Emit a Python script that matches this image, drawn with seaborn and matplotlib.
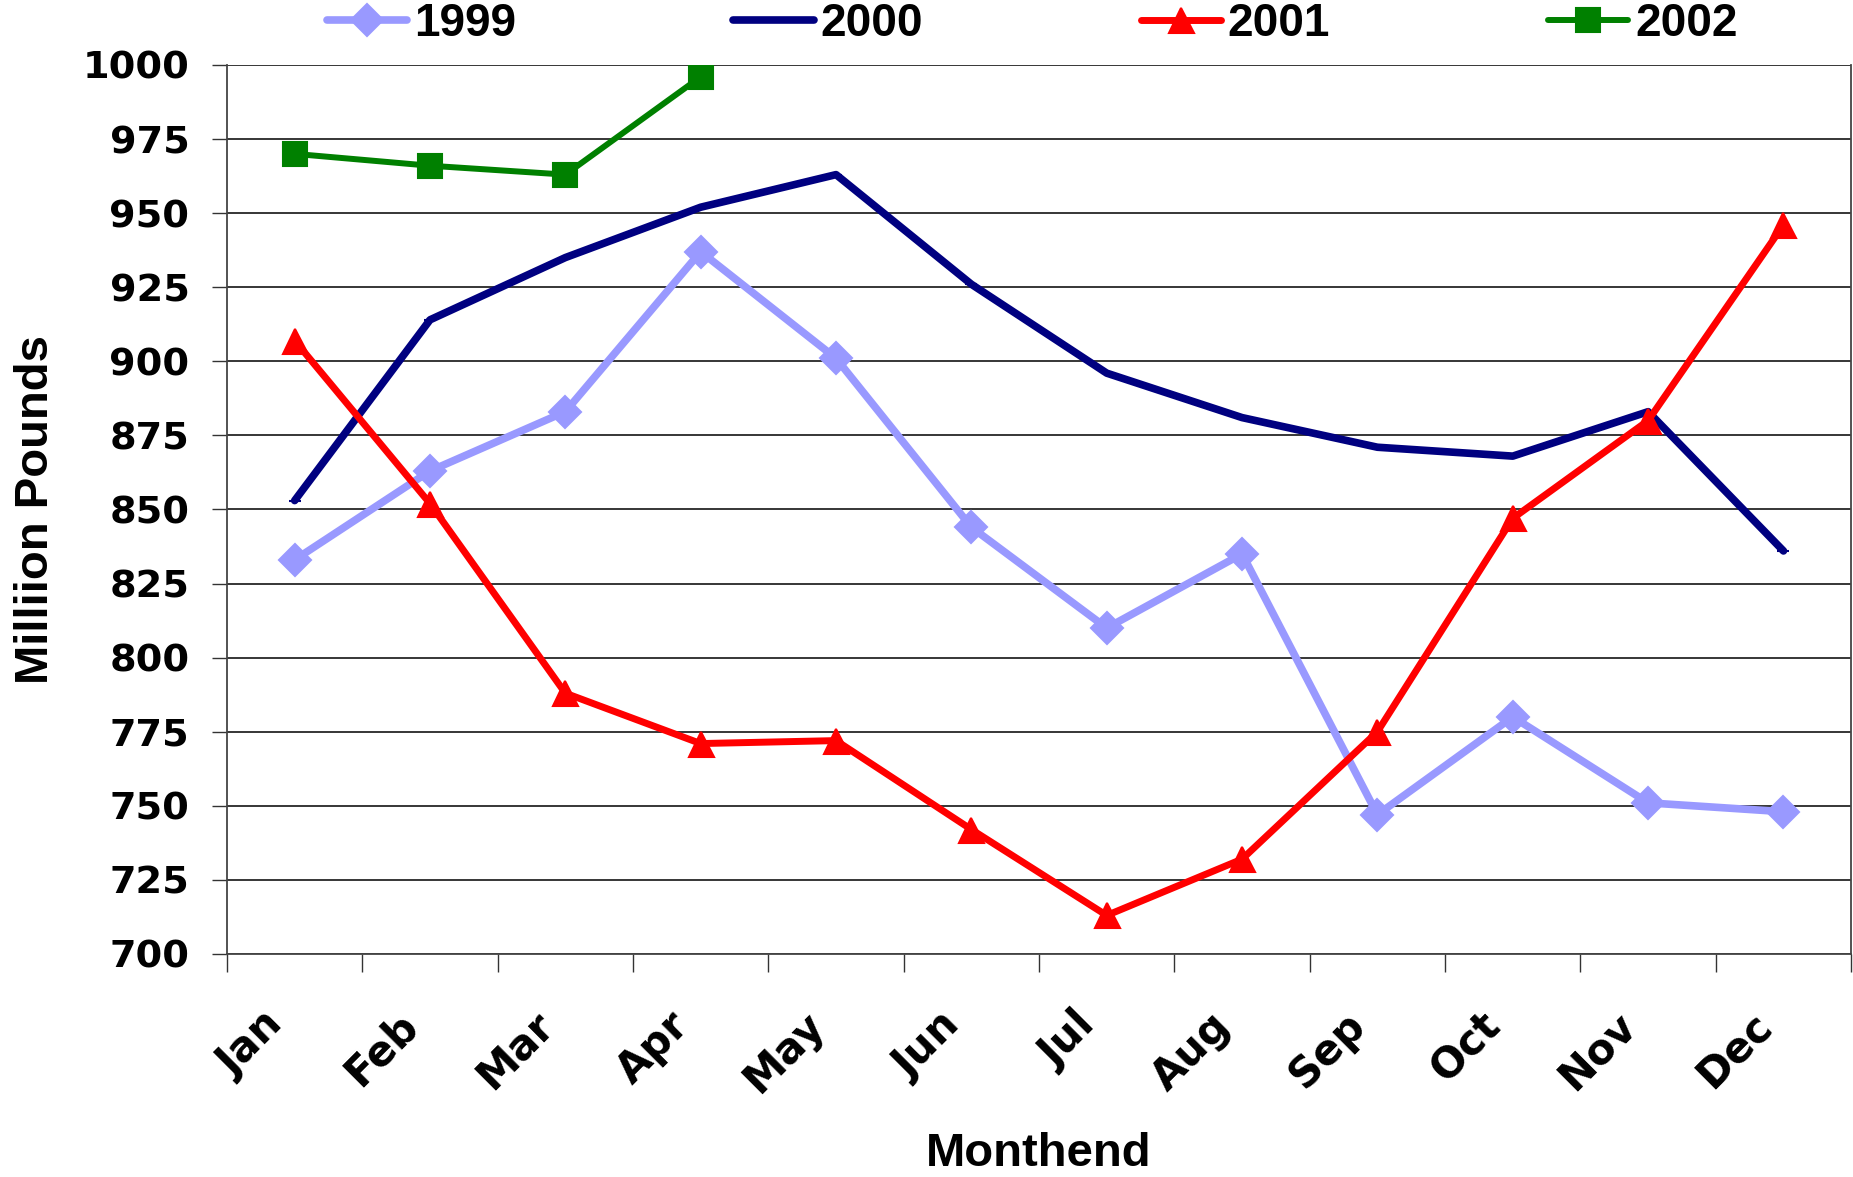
import pandas as pd
import seaborn as sns
import matplotlib.pyplot as plt
from matplotlib.ticker import FixedLocator, MultipleLocator
from matplotlib.transforms import ScaledTranslation

months = ["Jan", "Feb", "Mar", "Apr", "May", "Jun",
          "Jul", "Aug", "Sep", "Oct", "Nov", "Dec"]
vals_1999 = [833, 863, 883, 937, 901, 844, 810, 835, 747, 780, 751, 748]
vals_2000 = [853, 914, 935, 952, 963, 926, 896, 881, 871, 868, 883, 836]
vals_2001 = [907, 852, 788, 771, 772, 742, 713, 732, 775, 847, 880, 946]
vals_2002 = [970, 966, 963, 996]

rows = []
for year, vals in [("1999", vals_1999), ("2000", vals_2000),
                   ("2001", vals_2001), ("2002", vals_2002)]:
    for m, v in zip(months, vals):
        rows.append({"year": year, "month": m, "value": v})
df = pd.DataFrame(rows)

sns.set_theme(style="white")
plt.rcParams["font.family"] = ["Liberation Sans", "DejaVu Sans"]
plt.rcParams["text.color"] = "black"
plt.rcParams["axes.labelcolor"] = "black"
plt.rcParams["xtick.color"] = "black"
plt.rcParams["ytick.color"] = "black"

fig = plt.figure(figsize=(18.53, 11.77), dpi=100)
ax = fig.add_axes([0.1225, 0.1895, 0.8765, 0.7553])

styles = {
    "1999": dict(color="#9999FF", marker="D", markersize=16, linewidth=5.5),
    "2000": dict(color="#000080", marker="_", markersize=8, linewidth=5.5),
    "2001": dict(color="#FF0000", marker="^", markersize=18, linewidth=5),
    "2002": dict(color="#008000", marker="s", markersize=17, linewidth=4.3),
}
for year, st in styles.items():
    sub = df[df["year"] == year]
    sns.lineplot(data=sub, x="month", y="value", sort=False, ax=ax,
                 color=st["color"], linewidth=st["linewidth"],
                 marker=st["marker"], markersize=st["markersize"],
                 markeredgecolor=st["color"], markeredgewidth=1.5,
                 label=year)

ax.set_xlim(-0.5, 11.5)
ax.set_ylim(700, 1000)
ax.yaxis.set_major_locator(MultipleLocator(25))
ax.grid(axis="y", color="black", linewidth=1.1)
ax.grid(axis="x", visible=False)
for s in ax.spines.values():
    s.set_color("#444444")
    s.set_linewidth(1.3)
ax.spines["top"].set_visible(False)

ax.set_xticks(range(12))
ax.set_xticklabels(months)
ax.xaxis.set_minor_locator(FixedLocator([i - 0.5 for i in range(13)]))
ax.tick_params(axis="x", which="major", length=0, pad=36)
ax.tick_params(axis="x", which="minor", length=13, width=1, color="#333333",
               direction="out", bottom=True)
ax.tick_params(axis="y", length=11, width=1, color="#333333",
               direction="out", left=True, pad=16)
shift = ScaledTranslation(-24 / 72, 0, fig.dpi_scale_trans)
for lab in ax.get_xticklabels():
    lab.set_fontfamily("DejaVu Sans")
    lab.set_fontweight("heavy")
    lab.set_fontsize(30)
    lab.set_rotation(45)
    lab.set_ha("right")
    lab.set_rotation_mode("anchor")
    lab.set_transform(lab.get_transform() + shift)
for lab in ax.get_yticklabels():
    lab.set_fontfamily("DejaVu Sans")
    lab.set_fontweight("heavy")
    lab.set_fontsize(27.5)

ax.set_xlabel("Monthend", fontsize=34, fontweight="bold")
ax.set_ylabel("Milliion Pounds", fontsize=34, fontweight="bold")
ax.xaxis.set_label_coords(0.5, -0.200)
ax.yaxis.set_label_coords(-0.104, 0.5)

handles, labels = ax.get_legend_handles_labels()
ax.get_legend().remove()
fig.legend(handles, labels, loc="center", bbox_to_anchor=(0.557, 1 - 24 / 1177),
           ncol=4, frameon=False, handlelength=1.75,
           handletextpad=0.15, columnspacing=4.75, markerscale=1.0,
           prop={"weight": "bold", "size": 33})

fig.savefig("out.png", dpi=100)
